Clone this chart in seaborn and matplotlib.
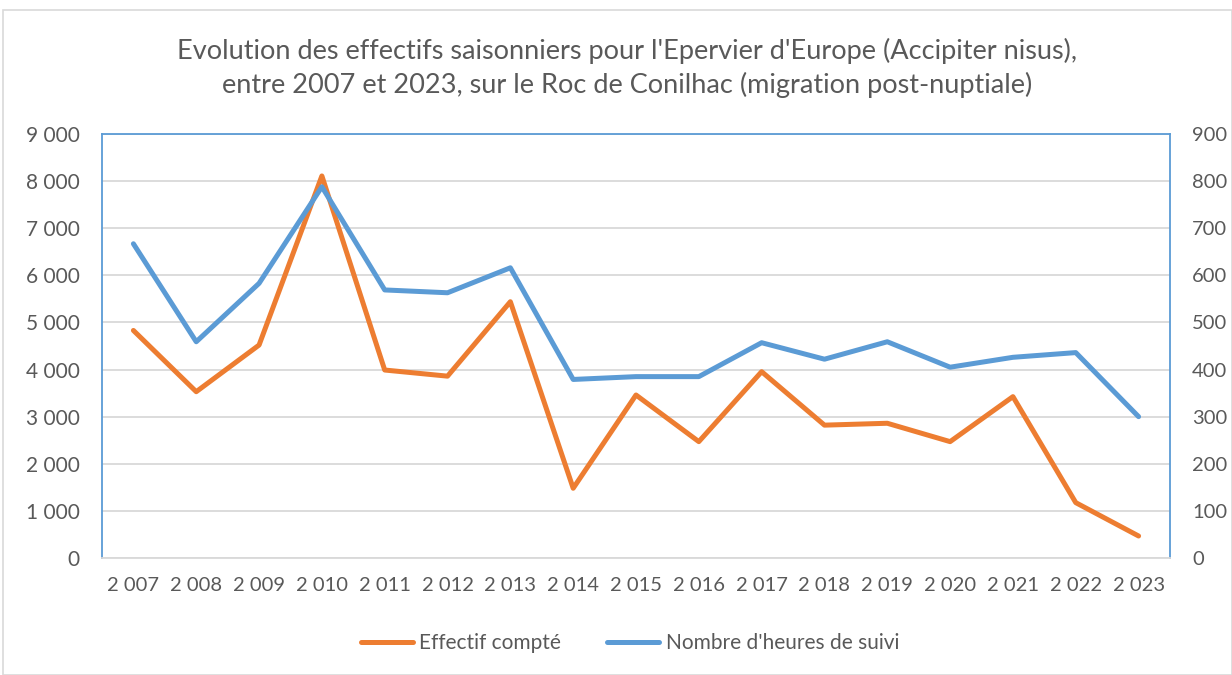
import matplotlib
matplotlib.use("Agg")
import matplotlib.pyplot as plt
import seaborn as sns
import pandas as pd
from matplotlib.patches import Rectangle
from matplotlib.ticker import FuncFormatter

years = list(range(2007, 2024))
year_labels = ["2 %03d" % (y - 2000) for y in years]
effectif = [4830, 3530, 4520, 8110, 3990, 3860, 5440, 1480, 3460, 2470,
            3955, 2820, 2860, 2470, 3425, 1175, 467]
heures = [667, 459, 583, 788, 569, 563, 616, 379, 385, 385,
          457, 422, 459, 405, 426, 436, 300]

title = ("Evolution des effectifs saisonniers pour l'Epervier d'Europe (Accipiter nisus),\n"
         "entre 2007 et 2023, sur le Roc de Conilhac (migration post-nuptiale)")
label_eff = "Effectif compté"
label_h = "Nombre d'heures de suivi"

sns.set_theme(style="white")
plt.rcParams['font.family'] = ['Lato', 'DejaVu Sans']

orange = "#ed7d31"
blue = "#5b9bd5"
grey_txt = "#595959"
grid_c = "#d9d9d9"

df = pd.DataFrame({"idx": range(len(years)), "eff": effectif, "h": heures})

fig = plt.figure(figsize=(12.32, 6.75), dpi=100)
fig.patches.append(Rectangle((3 / 1232, 0), 1 - 3 / 1232, 1 - 10 / 675, transform=fig.transFigure,
                             fill=False, edgecolor=grid_c, linewidth=1.2))
ax = fig.add_axes([102 / 1232, 1 - 558 / 675, (1170 - 102) / 1232, (558 - 134) / 675])
ax2 = ax.twinx()

sns.lineplot(data=df, x="idx", y="eff", ax=ax, color=orange, linewidth=3.6,
             label=label_eff, legend=False)
sns.lineplot(data=df, x="idx", y="h", ax=ax2, color=blue, linewidth=3.6,
             label=label_h, legend=False)

ax.set_xlim(-0.5, len(years) - 0.5)
ax.set_ylim(0, 9000)
ax2.set_ylim(0, 900)
ax.set_yticks(range(0, 9001, 1000))
ax2.set_yticks(range(0, 901, 100))
ax.yaxis.set_major_formatter(FuncFormatter(lambda v, p: "{:,}".format(int(v)).replace(",", " ")))
ax.set_xticks(range(len(years)))
ax.set_xticklabels(year_labels)
ax.grid(axis="y", color=grid_c, linewidth=1.3)
ax.set_axisbelow(True)
ax.set_xlabel("")
ax.set_ylabel("")
ax2.set_ylabel("")

for a in (ax, ax2):
    a.tick_params(axis="both", length=0, labelsize=15, colors=grey_txt)
    for s in a.spines.values():
        s.set_visible(False)
ax.tick_params(axis="x", labelsize=14.5, pad=14)
ax.tick_params(axis="y", pad=16)
ax2.tick_params(axis="y", pad=16, labelsize=14.5)
ax2.spines["left"].set_visible(True)
ax2.spines["left"].set_color(blue)
ax2.spines["right"].set_visible(True)
ax2.spines["right"].set_color(blue)
ax2.spines["top"].set_visible(True)
ax2.spines["top"].set_color(blue)
ax2.spines["bottom"].set_visible(True)
ax2.spines["bottom"].set_color(grid_c)
for s in ("left", "right", "top", "bottom"):
    ax2.spines[s].set_linewidth(1.3)

fig.text(627 / 1232, 1 - 68 / 675, title, ha="center", va="center", fontsize=19.5,
         color=grey_txt, linespacing=1.35)

h1, l1 = ax.get_legend_handles_labels()
h2, l2 = ax2.get_legend_handles_labels()
fig.legend(h1 + h2, l1 + l2, loc="center", bbox_to_anchor=(630 / 1232, 1 - 643 / 675),
           ncol=2, frameon=False, fontsize=15, labelcolor=grey_txt, handlelength=2.5,
           handletextpad=0.3, columnspacing=2.2)

fig.savefig("out.png", dpi=100)
